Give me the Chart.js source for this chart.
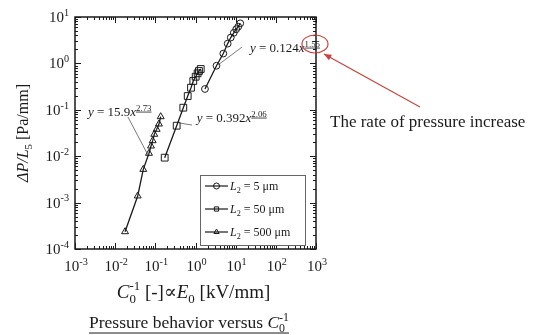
<!DOCTYPE html>
<html><head><meta charset="utf-8">
<script src="https://cdn.jsdelivr.net/npm/chart.js@4.4.1/dist/chart.umd.min.js"></script>
<style>html,body{margin:0;padding:0;background:#fff}#wrap{width:543px;height:335px;position:relative}</style>
</head><body><div id="wrap"><canvas id="c"></canvas></div>
<script>
// ---- data ----
const X_DECADES=[-3,-2,-1,0,1,2,3];
const Y_DECADES=[-4,-3,-2,-1,0,1];
const L2_VALUES=[5,50,500];
const POINT_STYLES=['circle','rect','triangle'];

const c5x=[1.72,3.33,4.92,6.33,7.55,8.97,10.3,11.6,13.0];
const c5y=[0.281,0.891,1.63,2.67,3.61,4.56,5.45,6.18,7.31];
const s50x=[0.171,0.340,0.497,0.640,0.773,0.881,1.01,1.13,1.22,1.35];
const s50y=[0.0093,0.0454,0.111,0.198,0.299,0.418,0.516,0.612,0.686,0.757];
const t500x=[0.0176,0.0364,0.0501,0.0695,0.078,0.0859,0.0942,0.108,0.123,0.136];
const t500y=[2.36e-4,1.39e-3,5.2e-3,0.01155,0.0166,0.0216,0.0297,0.038,0.0494,0.071];

// fit labels: coef, exponent, text start (data x, baseline y), leader from / to
const FITS=[
  {coef:'15.9',exp:'2.73',at:[0.0021,0.0734],from:[0.0208,0.07],to:[0.0656,0.0106]},
  {coef:'0.392',exp:'2.06',at:[1.07,0.0546],from:[0.388,0.052],to:[0.818,0.047]},
  {coef:'0.124',exp:'1.55',at:[22.7,1.76],from:[3.63,0.924],to:[14.4,2.25]},
];

const zip=(xs,ys)=>xs.map((x,i)=>({x,y:ys[i]}));
const SERIF="'Liberation Serif','Times New Roman','DejaVu Serif',serif";
const INK='#1a1a1a';
function fnt(sz,it){return (it?'italic ':'')+sz+'px '+SERIF;}

// rich text: segs of {t, i, sub, sup, su (underline sup)}
function segW(ctx,s,sz){
  let w=0,sw=0;
  if(s.t){ctx.font=fnt(sz,s.i);w=ctx.measureText(s.t).width;}
  if(s.sub){ctx.font=fnt(sz*0.68);sw=Math.max(sw,ctx.measureText(s.sub).width);}
  if(s.sup){ctx.font=fnt(sz*0.68);sw=Math.max(sw,ctx.measureText(s.sup).width);}
  return w+sw;
}
function drawRich(ctx,segs,x,y,sz,align,underline){
  const tot=segs.reduce((a,s)=>a+segW(ctx,s,sz),0);
  let cx=align==='center'?x-tot/2:align==='right'?x-tot:x;
  const x0=cx;
  ctx.textAlign='left';ctx.textBaseline='alphabetic';ctx.fillStyle=INK;
  segs.forEach(s=>{
    if(s.t){ctx.font=fnt(sz,s.i);ctx.fillText(s.t,cx,y);cx+=ctx.measureText(s.t).width;}
    let sw=0;
    if(s.sub){ctx.font=fnt(sz*0.68);ctx.fillText(s.sub,cx,y+sz*0.24);sw=Math.max(sw,ctx.measureText(s.sub).width);}
    if(s.sup){
      ctx.font=fnt(sz*0.68);const yy=y-sz*0.42;ctx.fillText(s.sup,cx,yy);
      const w2=ctx.measureText(s.sup).width;sw=Math.max(sw,w2);
      if(s.su){ctx.strokeStyle=INK;ctx.lineWidth=0.8;ctx.beginPath();ctx.moveTo(cx,yy+1.5);ctx.lineTo(cx+w2,yy+1.5);ctx.stroke();}
    }
    cx+=sw;
  });
  if(underline){ctx.strokeStyle=INK;ctx.lineWidth=1;ctx.beginPath();ctx.moveTo(x0,y+5);ctx.lineTo(x0+tot,y+5);ctx.stroke();}
  return tot;
}

const decor={
  id:'decor',
  afterDraw(chart){
    const ctx=chart.ctx,a=chart.chartArea,xs=chart.scales.x,ys=chart.scales.y;
    ctx.save();
    // frame
    ctx.strokeStyle=INK;ctx.lineWidth=1.5;
    ctx.strokeRect(a.left,a.top,a.right-a.left,a.bottom-a.top);
    // inward ticks on all four sides
    ctx.lineWidth=1;ctx.beginPath();
    X_DECADES.forEach(d=>{
      for(let m=1;m<10;m++){
        if(d===X_DECADES[X_DECADES.length-1]&&m>1)break;
        const px=Math.round(xs.getPixelForValue(m*Math.pow(10,d)))+0.5,L=m===1?6:3;
        ctx.moveTo(px,a.bottom);ctx.lineTo(px,a.bottom-L);
        ctx.moveTo(px,a.top);ctx.lineTo(px,a.top+L);
      }
    });
    Y_DECADES.forEach(d=>{
      for(let m=1;m<10;m++){
        if(d===Y_DECADES[Y_DECADES.length-1]&&m>1)break;
        const py=Math.round(ys.getPixelForValue(m*Math.pow(10,d)))+0.5,L=m===1?6:3;
        ctx.moveTo(a.left,py);ctx.lineTo(a.left+L,py);
        ctx.moveTo(a.right,py);ctx.lineTo(a.right-L,py);
      }
    });
    ctx.stroke();
    // tick labels
    X_DECADES.forEach(d=>drawRich(ctx,[{t:'10',sup:String(d)}],xs.getPixelForValue(Math.pow(10,d))+1,a.bottom+22,15,'center'));
    Y_DECADES.forEach(d=>drawRich(ctx,[{t:'10',sup:String(d)}],a.left-6,ys.getPixelForValue(Math.pow(10,d))+5,15,'right'));
    // axis titles
    drawRich(ctx,[{t:'C',i:1,sub:'0',sup:'-1'},{t:' [-]\u221D'},{t:'E',i:1,sub:'0'},{t:' [kV/mm]'}],(a.left+a.right)/2-2,a.bottom+49,19,'center');
    ctx.save();ctx.translate(28,(a.top+a.bottom)/2);ctx.rotate(-Math.PI/2);
    drawRich(ctx,[{t:'\u0394P/L',i:1,sub:'5'},{t:' [Pa/mm]'}],0,0,16,'center');
    ctx.restore();
    // caption
    drawRich(ctx,[{t:'Pressure behavior versus '},{t:'C',i:1,sub:'0',sup:'-1'}],189,328,17.5,'center',true);
    // fit annotations
    ctx.strokeStyle='#555';ctx.lineWidth=0.8;
    FITS.forEach(f=>{
      ctx.beginPath();
      ctx.moveTo(xs.getPixelForValue(f.from[0]),ys.getPixelForValue(f.from[1]));
      ctx.lineTo(xs.getPixelForValue(f.to[0]),ys.getPixelForValue(f.to[1]));
      ctx.stroke();
    });
    FITS.forEach(f=>{
      const px=xs.getPixelForValue(f.at[0]),py=ys.getPixelForValue(f.at[1]);
      drawRich(ctx,[{t:'y',i:1},{t:' = '+f.coef},{t:'x',i:1,sup:f.exp,su:1}],px,py,13,'left');
    });
    // red callout
    const ex=xs.getPixelForValue(944),ey=ys.getPixelForValue(2.62);
    ctx.strokeStyle='#c9423d';ctx.lineWidth=1.2;
    ctx.beginPath();ctx.ellipse(ex,ey,13,9,0,0,Math.PI*2);ctx.stroke();
    const tx=ex+9,ty=ey+10,sx=420,sy=107;
    ctx.beginPath();ctx.moveTo(sx,sy);ctx.lineTo(tx,ty);ctx.stroke();
    const ang=Math.atan2(ty-sy,tx-sx);
    ctx.fillStyle='#c9423d';ctx.beginPath();ctx.moveTo(tx,ty);
    ctx.lineTo(tx-8*Math.cos(ang-0.4),ty-8*Math.sin(ang-0.4));
    ctx.lineTo(tx-8*Math.cos(ang+0.4),ty-8*Math.sin(ang+0.4));ctx.closePath();ctx.fill();
    ctx.fillStyle=INK;ctx.font=fnt(17);ctx.textAlign='left';ctx.textBaseline='middle';
    ctx.fillText('The rate of pressure increase',330,123);
    // legend box
    const lx=200,ly=175,lw=105,lh=70;
    ctx.fillStyle='#fff';ctx.fillRect(lx,ly,lw,lh);
    ctx.strokeStyle='#666';ctx.lineWidth=1;ctx.strokeRect(lx+0.5,ly+0.5,lw,lh);
    chart.data.datasets.forEach((ds,i)=>{
      const yy=ly+11+i*23;
      ctx.strokeStyle=INK;ctx.lineWidth=1.2;ctx.beginPath();ctx.moveTo(lx+5,yy);ctx.lineTo(lx+28,yy);ctx.stroke();
      ctx.fillStyle='rgba(0,0,0,0)';ctx.lineWidth=1;
      Chart.helpers.drawPoint(ctx,{pointStyle:ds.pointStyle,radius:3,borderWidth:1,rotation:0},lx+16.5,yy);
      drawRich(ctx,[{t:'L',i:1,sub:'2'},{t:' = '+L2_VALUES[i]+' \u03BCm'}],lx+30,yy+4,12,'left');
    });
    ctx.restore();
  }
};

const series=[zip(c5x,c5y),zip(s50x,s50y),zip(t500x,t500y)];
const radii=[3.4,4.8,4];
new Chart(document.getElementById('c'),{
  type:'scatter',
  data:{datasets:series.map((d,i)=>({
    label:'L2 = '+L2_VALUES[i]+' \u03BCm',data:d,showLine:true,tension:0,
    borderColor:INK,borderWidth:1.3,pointStyle:POINT_STYLES[i],pointRadius:radii[i],
    pointBorderColor:INK,pointBorderWidth:1,pointBackgroundColor:'rgba(0,0,0,0)'
  }))},
  options:{
    responsive:true,maintainAspectRatio:false,animation:false,
    layout:{padding:{left:75,right:227,top:17,bottom:86}},
    plugins:{legend:{display:false},tooltip:{enabled:false}},
    scales:{
      x:{type:'logarithmic',min:1e-3,max:1e3,grid:{display:false},ticks:{display:false},border:{display:false},afterFit(s){s.height=0;}},
      y:{type:'logarithmic',min:1e-4,max:10,grid:{display:false},ticks:{display:false},border:{display:false},afterFit(s){s.width=0;}}
    }
  },
  plugins:[decor]
});
</script></body></html>
